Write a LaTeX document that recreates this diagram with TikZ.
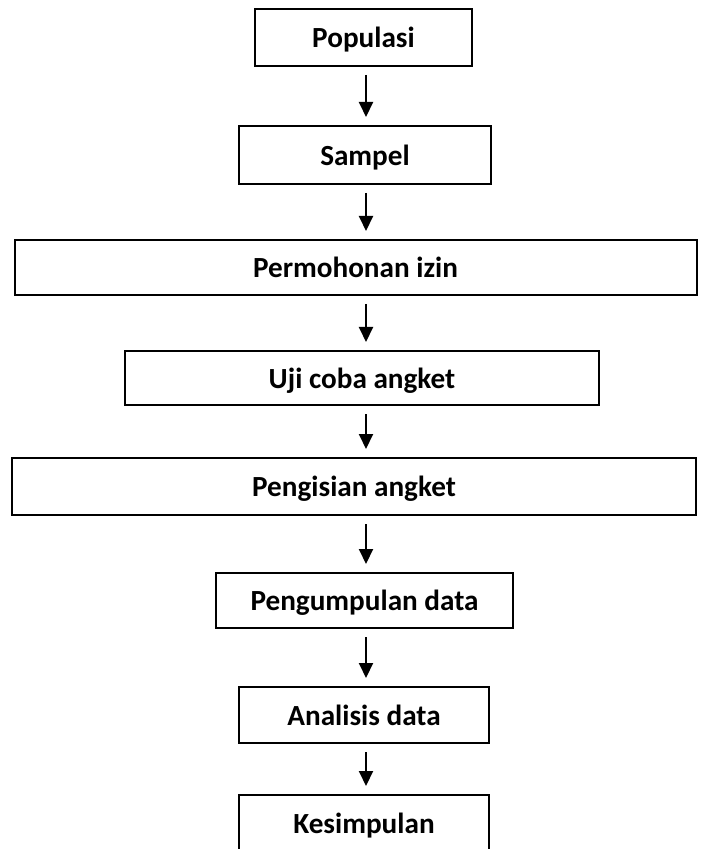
\documentclass[tikz,border=0pt]{standalone}
\usepackage{fontspec}
\setmainfont{Carlito}
\usetikzlibrary{arrows.meta}

\begin{document}
\begin{tikzpicture}[x=0.5pt,y=-0.5pt]
            \tikzstyle{box}=[draw=black, line width=1pt, inner sep=0pt, text depth=0pt, font=\bfseries\fontsize{14.6}{17}\selectfont]
            \tikzstyle{flow}=[line width=1pt, -{Triangle[length=7.5pt,width=7pt]}, shorten <=4pt, shorten >=4pt]
            \useasboundingbox (0,0) rectangle (700,849);
            \coordinate (axis) at (366,0);
            % boxes
            \node [box, minimum width=108.5pt, minimum height=28.5pt] (populasi) at (363.5,37.5) {Populasi};
            \node [box, minimum width=126pt, minimum height=29pt] (sampel) at (365,155) {Sampel};
            \node [box, minimum width=341pt, minimum height=27.5pt] (izin) at (355.5,267.5) {Permohonan izin};
            \node [box, minimum width=237pt, minimum height=27pt] (ujicoba) at (362,378) {Uji coba angket};
            \node [box, minimum width=342pt, minimum height=28.5pt] (pengisian) at (354,486.5) {Pengisian angket};
            \node [box, minimum width=148.5pt, minimum height=27.5pt] (pengumpulan) at (364.5,600.5) {Pengumpulan data};
            \node [box, minimum width=125pt, minimum height=28pt] (analisis) at (364,715) {Analisis data};
            \node [box, minimum width=125pt, minimum height=28.5pt] (kesimpulan) at (364,823.5) {Kesimpulan};
            % arrows
            \draw [flow] (populasi.south -| axis) -- (sampel.north -| axis);
            \draw [flow] (sampel.south -| axis) -- (izin.north -| axis);
            \draw [flow] (izin.south -| axis) -- (ujicoba.north -| axis);
            \draw [flow] (ujicoba.south -| axis) -- (pengisian.north -| axis);
            \draw [flow] (pengisian.south -| axis) -- (pengumpulan.north -| axis);
            \draw [flow] (pengumpulan.south -| axis) -- (analisis.north -| axis);
            \draw [flow] (analisis.south -| axis) -- (kesimpulan.north -| axis);
        \end{tikzpicture}
\end{document}
